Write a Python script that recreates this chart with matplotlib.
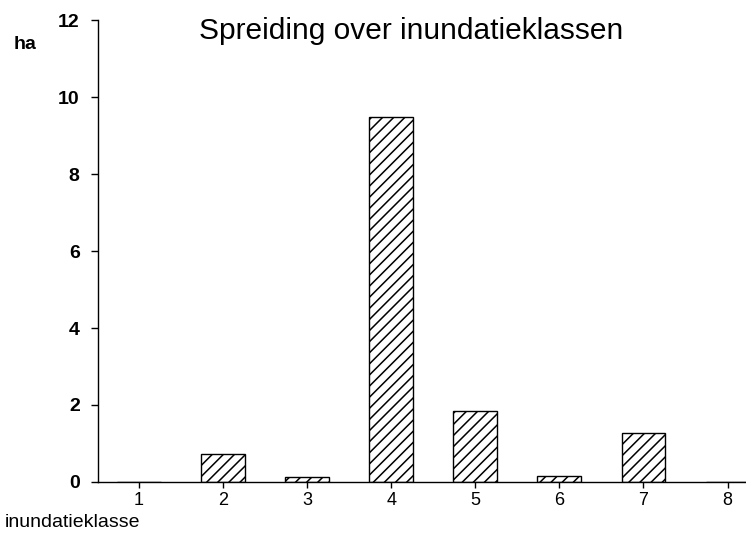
import numpy as np
import matplotlib
matplotlib.use('Agg')
import matplotlib.pyplot as plt

plt.rcParams['font.family'] = ['Liberation Sans', 'DejaVu Sans']
plt.rcParams['hatch.linewidth'] = 1.1

klassen = ['1', '2', '3', '4', '5', '6', '7', '8']
ha = [0.0, 0.73, 0.13, 9.47, 1.84, 0.15, 1.27, 0.0]
yticks = [0, 2, 4, 6, 8, 10, 12]

fig = plt.figure(figsize=(7.46, 5.34), dpi=100)
ax = fig.add_axes([0.131, 0.0974, 0.869, 0.8651])

x = np.arange(1, len(klassen) + 1)
ax.bar(x, ha, width=0.52, color='white', edgecolor='black',
       linewidth=1.0, hatch='///')

ax.set_xlim(0.51, 8.22)
ax.set_ylim(0, 12)
ax.set_xticks(x)
ax.set_xticklabels(klassen, fontsize=13)
ax.set_yticks(yticks)
ax.set_yticklabels([str(v) for v in yticks], fontsize=14, fontweight='bold')

for side in ['top', 'right']:
    ax.spines[side].set_visible(False)
ax.spines['left'].set_linewidth(1.0)
ax.spines['bottom'].set_linewidth(1.0)
ax.tick_params(axis='y', length=5, width=1, pad=8)
ax.tick_params(axis='x', length=4, width=1, pad=3)

fig.text(0.551, 0.942, 'Spreiding over inundatieklassen', fontsize=21.5,
         ha='center', va='center')
fig.text(0.018, 0.916, 'ha', fontsize=14, fontweight='bold',
         ha='left', va='center')
fig.text(0.007, 0.022, 'inundatieklasse', fontsize=14,
         ha='left', va='center')

fig.savefig('out.png', dpi=100)
